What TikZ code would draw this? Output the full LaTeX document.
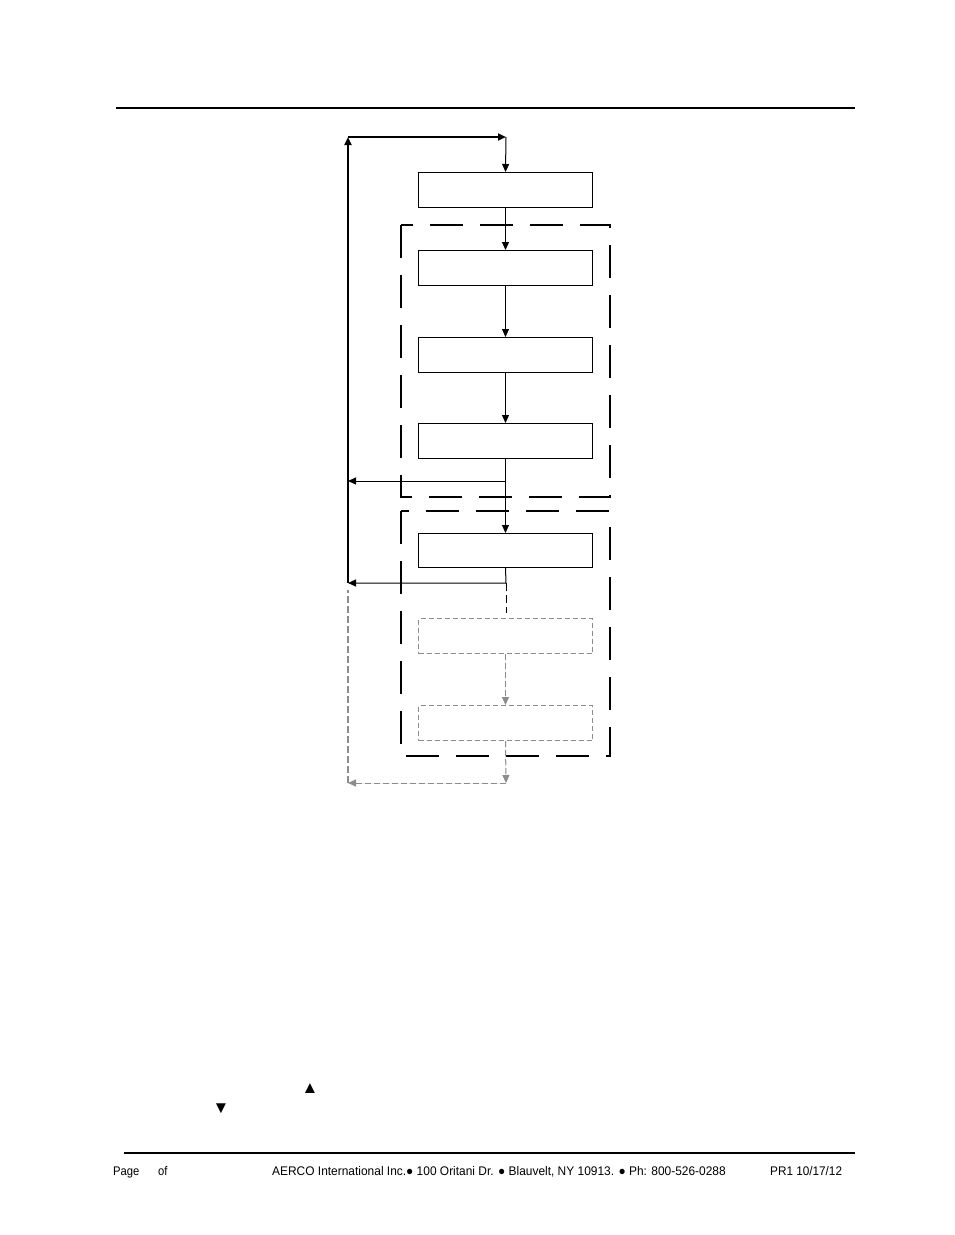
\documentclass[tikz,border=0pt]{standalone}
\usepackage{fontspec}
\setmainfont{Liberation Sans}
\usetikzlibrary{arrows.meta}
\definecolor{lgray}{HTML}{8C8C8C}
\begin{document}
\begin{tikzpicture}[x=1pt,y=-1pt,
  box/.style={draw, line width=1pt, minimum width=174pt, minimum height=35pt, inner sep=0pt, anchor=north west},
  gbox/.style={box, draw=lgray, dash pattern=on 5pt off 3pt},
  tip/.style={-{Triangle[length=8pt,width=7pt]}},
  arr/.style={tip, line width=1pt},
  tharr/.style={tip, line width=2pt},
  garr/.style={-{Triangle[length=8pt,width=7pt]}, line width=1pt, draw=lgray, fill=lgray, dash pattern=on 6pt off 3pt},
  gline/.style={line width=2pt, draw=lgray, dash pattern=on 7pt off 3pt},
  bdash/.style={line width=1pt, dash pattern=on 8pt off 4pt},
  region/.style={line width=2.8pt, dash pattern=on 33pt off 17pt},
  rule/.style={line width=2.5pt},
  foot/.style={font=\fontsize{12.5}{14}\selectfont, inner sep=0pt, anchor=base west},
  sym/.style={font=\fontsize{17}{18}\selectfont, inner sep=0pt}
]
\useasboundingbox (0,0) rectangle (954,1235);

% page rules
\coordinate (h1) at (116,108); \coordinate (h2) at (855,108);
\draw[rule] (h1) -- (h2);
\coordinate (f1) at (124,1153); \coordinate (f2) at (855,1153);
\draw[rule] (f1) -- (f2);

% dashed regions
\draw[region] (401,225) rectangle (610,497);
\draw[region] (401,511) rectangle (610,756);

% boxes
\node[box] (b1) at (418,172) {};
\node[box] (b2) at (418,250) {};
\node[box] (b3) at (418,337) {};
\node[box] (b4) at (418,423) {};
\node[box, minimum height=34pt] (b5) at (418,533) {};
\node[gbox] (b6) at (418,618) {};
\node[gbox] (b7) at (418,705) {};

% loop coordinates
\coordinate (tl) at (348,137);
\coordinate (tr) at (506,137);
\coordinate (j4) at (506,481);
\coordinate (e4) at (348,481);
\coordinate (j5) at (506,583);
\coordinate (e5) at (348,583);
\coordinate (j5b) at (506,613);
\coordinate (j7) at (506,783);
\coordinate (e7) at (348,783);
\coordinate (e5b) at (348,590);

% connectors
\draw[tharr] (e5) -- (tl);
\draw[tharr] (tl) -- (tr);
\draw[arr] (tr) -- (b1.north);
\draw[arr] (b1) -- (b2);
\draw[arr] (b2) -- (b3);
\draw[arr] (b3) -- (b4);
\draw[arr] (b4) -- (b5);
\draw[arr] (j4) -- (e4);
\draw[arr] (b5.south) -- (j5) -- (e5);
\draw[bdash] (j5) -- (j5b);
\draw[garr] (b6) -- (b7);
\draw[garr] (b7.south) -- (j7);
\draw[garr] (j7) -- (e7);
\draw[gline] (e7) -- (e5b);

% symbols
\node[sym] (up) at (310,1089) {▲};
\node[sym] (down) at (221,1109) {▼};

% footer
\node[foot] (pg) at (113,1175) {\scalebox{0.9}[1]{Page}};
\node[foot] (of) at (158,1175) {\scalebox{0.9}[1]{of}};
\node[foot] (addr) at (272,1175) {\scalebox{0.955}[1]{AERCO International Inc.● 100 Oritani Dr. ● Blauvelt, NY 10913. ● Ph: 800-526-0288}};
\node[foot] (rev) at (770,1175) {\scalebox{0.94}[1]{PR1 10/17/12}};
\end{tikzpicture}
\end{document}
